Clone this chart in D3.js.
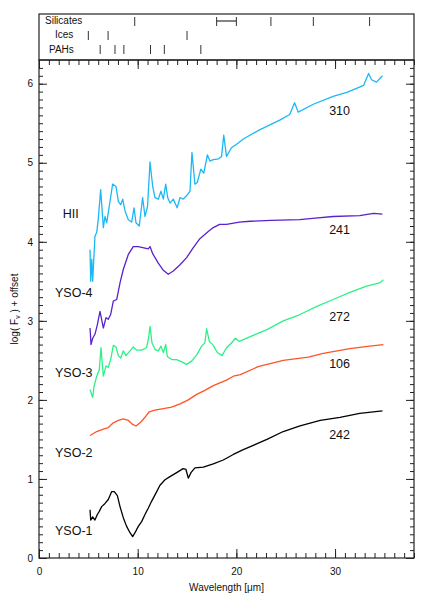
<!DOCTYPE html>
<html>
<head>
<meta charset="utf-8">
<script src="https://cdn.jsdelivr.net/npm/d3@7"></script>
<style>
  body { margin: 0; background: #fff; }
  svg text { font-family: "Liberation Sans", Arial, Helvetica, sans-serif; fill: #111; }
</style>
</head>
<body>
<div id="chart"></div>
<script>
// spectra: [wavelength (um), log(F_nu) + offset]
var hii = [[5.17,3.90],[5.24,3.50],[5.35,3.78],[5.44,3.50],[5.67,4.07],[5.85,4.12],[6.0,4.28],[6.25,4.66],[6.52,4.18],[6.69,4.32],[6.86,4.24],[7.12,4.45],[7.46,4.73],[7.8,4.70],[8.04,4.51],[8.28,4.47],[8.48,4.54],[8.72,4.39],[9.05,4.28],[9.39,4.25],[9.63,4.43],[9.83,4.24],[10.16,4.20],[10.5,4.56],[10.74,4.32],[11.0,4.45],[11.25,5.01],[11.52,4.70],[11.75,4.56],[12.09,4.54],[12.36,4.64],[12.6,4.54],[12.84,4.73],[13.04,4.56],[13.27,4.49],[13.61,4.54],[14.0,4.43],[14.29,4.56],[14.6,4.54],[15.0,4.59],[15.3,4.64],[15.5,5.13],[15.8,4.73],[16.04,4.75],[16.4,4.92],[16.7,4.87],[17.06,5.10],[17.33,5.02],[17.66,5.04],[18.2,5.05],[18.5,5.08],[18.72,5.35],[19.0,5.08],[19.5,5.19],[20.2,5.25],[20.7,5.30],[22.4,5.42],[24.4,5.54],[25.4,5.61],[25.9,5.76],[26.27,5.64],[27.8,5.74],[29.8,5.84],[31.2,5.89],[32.9,5.98],[33.4,6.13],[33.7,6.05],[34.2,6.02],[34.8,6.10]];

var yso4 = [[5.17,2.91],[5.27,2.70],[5.44,2.78],[5.67,2.83],[5.91,2.95],[6.18,3.12],[6.52,2.91],[6.79,3.04],[7.02,3.02],[7.26,3.08],[7.53,3.25],[7.87,3.27],[8.21,3.48],[8.54,3.65],[9.05,3.84],[9.55,3.94],[10.06,3.94],[10.74,3.92],[11.07,3.91],[11.25,3.94],[11.52,3.85],[12.09,3.73],[12.6,3.64],[13.1,3.59],[13.61,3.63],[14.29,3.71],[14.96,3.80],[15.6,3.92],[16.3,4.04],[17.15,4.13],[17.66,4.18],[18.3,4.22],[19.0,4.22],[20.3,4.25],[21.4,4.26],[23.5,4.27],[26.4,4.28],[28.0,4.30],[29.8,4.32],[32.5,4.33],[33.9,4.36],[34.8,4.35]];

var yso3 = [[5.17,2.13],[5.44,2.03],[5.57,2.17],[5.85,2.30],[6.11,2.38],[6.28,2.66],[6.52,2.30],[6.79,2.43],[7.02,2.41],[7.26,2.51],[7.53,2.69],[7.8,2.67],[8.04,2.56],[8.28,2.53],[8.54,2.62],[8.81,2.56],[9.22,2.62],[9.55,2.67],[9.9,2.63],[10.4,2.63],[10.9,2.66],[11.1,2.78],[11.25,2.93],[11.45,2.72],[11.75,2.64],[12.09,2.62],[12.36,2.68],[12.6,2.60],[12.84,2.70],[13.0,2.55],[13.44,2.51],[13.95,2.51],[14.46,2.48],[14.96,2.45],[15.47,2.49],[15.98,2.57],[16.48,2.68],[16.8,2.72],[16.99,2.90],[17.26,2.74],[17.66,2.69],[18.07,2.60],[18.55,2.56],[19.0,2.66],[19.5,2.72],[19.9,2.78],[20.3,2.74],[21.4,2.80],[23.1,2.89],[24.75,3.00],[26.45,3.08],[28.1,3.18],[29.8,3.27],[31.5,3.36],[33.2,3.44],[34.5,3.48],[34.9,3.52]];

var yso2 = [[5.17,1.55],[5.85,1.60],[6.52,1.63],[7.02,1.65],[7.53,1.71],[8.04,1.74],[8.54,1.76],[9.05,1.74],[9.49,1.69],[9.83,1.67],[10.24,1.71],[10.74,1.78],[11.17,1.85],[11.75,1.87],[12.6,1.89],[13.44,1.91],[14.29,1.95],[15.13,2.00],[15.98,2.07],[16.8,2.12],[17.66,2.18],[19.0,2.25],[19.7,2.30],[20.4,2.32],[22.2,2.42],[24.75,2.50],[27.3,2.54],[28.8,2.59],[31.5,2.65],[33.5,2.68],[34.9,2.70]];

var yso1 = [[5.17,0.61],[5.24,0.48],[5.44,0.52],[5.67,0.48],[5.91,0.55],[6.11,0.59],[6.35,0.65],[6.69,0.69],[7.02,0.74],[7.37,0.84],[7.63,0.84],[7.94,0.79],[8.21,0.65],[8.54,0.51],[8.88,0.40],[9.22,0.32],[9.49,0.27],[9.73,0.32],[10.06,0.40],[10.4,0.46],[10.74,0.55],[11.07,0.63],[11.42,0.72],[11.85,0.82],[12.26,0.92],[12.77,0.99],[13.27,1.03],[13.95,1.08],[14.6,1.13],[14.89,1.12],[15.13,1.01],[15.4,1.08],[15.8,1.14],[16.65,1.15],[17.66,1.19],[18.67,1.24],[19.69,1.31],[20.7,1.37],[23.1,1.50],[24.75,1.60],[26.45,1.67],[28.5,1.74],[30.5,1.78],[32.5,1.83],[34.8,1.86]];

var seriesNames = ["HII", "YSO-4", "YSO-3", "YSO-2", "YSO-1"];
var seriesIds = ["310", "241", "272", "106", "242"];
var seriesColors = ["#1cb8f4", "#5a22cc", "#2df087", "#ff5426", "#000000"];

// feature markers (um)
var silicateLines = [9.7, 23.5, 27.8, 33.5];
var silicateBand = [18, 20];
var iceLines = [5.0, 7.0, 15.0];
var pahLines = [6.2, 7.7, 8.6, 11.3, 12.7, 16.4];

var xTicks = [0, 10, 20, 30];
var yTicks = [0, 1, 2, 3, 4, 5, 6];

var width = 436, height = 610;
var m = {left: 39, right: 22, top: 60, bottom: 52};
var topY = 14;

var svg = d3.select("#chart").append("svg")
    .attr("width", width)
    .attr("height", height);

var x = d3.scaleLinear().domain([0, 38]).range([m.left, width - m.right]);
var y = d3.scaleLinear().domain([0, 6.3]).range([height - m.bottom, m.top]);

var g = svg.append("g");

// curves
var line = d3.line()
    .x(function (d) { return x(d[0]); })
    .y(function (d) { return y(d[1]); });

var allSeries = [hii, yso4, yso3, yso2, yso1];
allSeries.forEach(function (s, i) {
    g.append("path")
        .datum(s)
        .attr("fill", "none")
        .attr("stroke", seriesColors[i])
        .attr("stroke-width", 1.3)
        .attr("stroke-linejoin", "round")
        .attr("d", line);
});

// labels (positions in data units)
var nameAt = [[2.4, 4.30], [1.62, 3.30], [1.62, 2.29], [1.62, 1.28], [1.62, 0.29]];
var idAt = [[29.4, 5.60], [29.4, 4.10], [29.4, 3.00], [29.4, 2.40], [29.4, 1.51]];

seriesNames.forEach(function (n, i) {
    g.append("text")
        .attr("x", x(nameAt[i][0]))
        .attr("y", y(nameAt[i][1]))
        .attr("font-size", "12.5px")
        .text(n);
    g.append("text")
        .attr("x", x(idAt[i][0]))
        .attr("y", y(idAt[i][1]))
        .attr("font-size", "12.5px")
        .text(seriesIds[i]);
});

// axes: major + minor ticks on all four sides, pointing inward
var plotH = y(0) - y(6.3);
var plotW = x(38) - x(0);

function styleAxis(sel) {
    sel.select(".domain").remove();
    sel.selectAll(".tick line").attr("stroke", "#222").attr("stroke-width", 1);
    sel.selectAll(".tick text").attr("font-size", "10px").attr("fill", "#111")
        .style("font-family", "'Liberation Sans', Arial, sans-serif");
}

var minorY = d3.range(0, 63, 1).map(function (d) { return d / 10; });

var xb = svg.append("g").attr("transform", "translate(0," + y(0) + ")");
xb.append("g").call(d3.axisBottom(x).tickValues(d3.range(0, 39, 1)).tickSize(-5).tickFormat("")).call(styleAxis);
xb.append("g").call(d3.axisBottom(x).tickValues(xTicks).tickSize(-9).tickPadding(10).tickFormat(d3.format("d"))).call(styleAxis);

var xt = svg.append("g").attr("transform", "translate(0," + y(6.3) + ")");
xt.append("g").call(d3.axisTop(x).tickValues(d3.range(0, 39, 1)).tickSize(-5).tickFormat("")).call(styleAxis);
xt.append("g").call(d3.axisTop(x).tickValues(xTicks).tickSize(-9).tickFormat("")).call(styleAxis);

var yl = svg.append("g").attr("transform", "translate(" + x(0) + ",0)");
yl.append("g").call(d3.axisLeft(y).tickValues(minorY).tickSize(-4).tickFormat("")).call(styleAxis);
yl.append("g").call(d3.axisLeft(y).tickValues(yTicks).tickSize(-8).tickPadding(6).tickFormat(d3.format("d"))).call(styleAxis);

var yr = svg.append("g").attr("transform", "translate(" + x(38) + ",0)");
yr.append("g").call(d3.axisRight(y).tickValues(minorY).tickSize(-4).tickFormat("")).call(styleAxis);
yr.append("g").call(d3.axisRight(y).tickValues(yTicks).tickSize(-8).tickFormat("")).call(styleAxis);

// frame of main panel
svg.append("rect")
    .attr("x", x(0)).attr("y", y(6.3))
    .attr("width", plotW).attr("height", plotH)
    .attr("fill", "none").attr("stroke", "#222").attr("stroke-width", 1.2);

// axis titles
svg.append("text")
    .attr("x", (x(0) + x(38)) / 2)
    .attr("y", 591)
    .attr("text-anchor", "middle")
    .attr("font-size", "10px")
    .html("Wavelength [&#956;m]");

var yt = svg.append("text")
    .attr("transform", "translate(18," + (y(0) + y(6.3)) / 2 + ") rotate(-90)")
    .attr("text-anchor", "middle")
    .attr("font-size", "10px");
yt.append("tspan").text("log( F");
yt.append("tspan").attr("font-size", "7px").attr("dy", 2).text("\u03bd");
yt.append("tspan").attr("dy", -2).text(" ) + offset");

// top panel with feature markers
var tp = svg.append("g");
tp.append("rect")
    .attr("x", x(0)).attr("y", topY)
    .attr("width", plotW).attr("height", y(6.3) - topY)
    .attr("fill", "none").attr("stroke", "#222").attr("stroke-width", 1.2);

var rows = [
    {name: "Silicates", lx: 45, base: 24, y0: 17, y1: 26, lines: silicateLines},
    {name: "Ices", lx: 55, base: 38, y0: 31, y1: 40, lines: iceLines},
    {name: "PAHs", lx: 49, base: 53, y0: 45, y1: 54, lines: pahLines}
];

rows.forEach(function (r) {
    tp.append("text")
        .attr("x", r.lx).attr("y", r.base)
        .attr("font-size", "10px")
        .text(r.name);
    tp.selectAll(null)
        .data(r.lines)
        .enter().append("line")
        .attr("x1", function (d) { return x(d); })
        .attr("x2", function (d) { return x(d); })
        .attr("y1", r.y0).attr("y2", r.y1)
        .attr("stroke", "#333").attr("stroke-width", 1);
});

// silicate band 18-20 um
var bandY = 21;
tp.append("line")
    .attr("x1", x(silicateBand[0])).attr("x2", x(silicateBand[1]))
    .attr("y1", bandY).attr("y2", bandY)
    .attr("stroke", "#333").attr("stroke-width", 1.2);
silicateBand.forEach(function (d) {
    tp.append("line")
        .attr("x1", x(d)).attr("x2", x(d))
        .attr("y1", 17).attr("y2", 26)
        .attr("stroke", "#333").attr("stroke-width", 1);
});
</script>
</body>
</html>
